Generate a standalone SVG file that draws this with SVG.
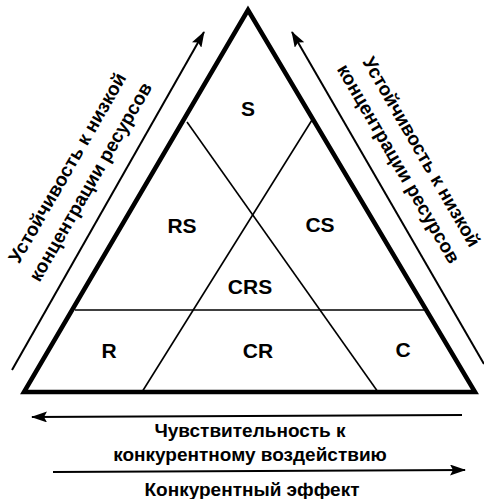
<svg xmlns="http://www.w3.org/2000/svg" width="484" height="499" viewBox="0 0 484 499">
<defs>
<style>
.lbl{font-family:"Liberation Sans",Arial,sans-serif;font-weight:bold;font-size:21px;fill:#000;text-anchor:middle}
.ax{font-family:"Liberation Sans",Arial,sans-serif;font-weight:bold;font-size:19px;fill:#000;text-anchor:middle}
.thin{stroke:#000;stroke-width:1.6;fill:none}
.arr{stroke:#000;stroke-width:2;fill:none;marker-end:url(#ah)}
</style>
<marker id="ah" viewBox="0 0 16 11" refX="15" refY="5.5" markerWidth="16" markerHeight="11" markerUnits="userSpaceOnUse" orient="auto">
<path d="M0,0 L16,5.5 L0,11 L3,5.5 Z" fill="#000"/>
</marker>
</defs>
<rect width="484" height="499" fill="#fff"/>
<g id="triangle">
<polygon points="248,10 24,392 475,392" fill="none" stroke="#000" stroke-width="4.5" stroke-linejoin="miter"/>
</g>
<g id="connectors">
<line class="thin" x1="187" y1="122" x2="378" y2="392"/>
<line class="thin" x1="312" y1="120" x2="142" y2="392"/>
<line class="thin" x1="75" y1="310" x2="424" y2="310"/>
<line class="arr" x1="12" y1="370" x2="204" y2="32"/>
<line class="arr" x1="484" y1="364" x2="292" y2="32"/>
<line class="arr" x1="462" y1="415" x2="32" y2="417"/>
<line class="arr" x1="53" y1="472" x2="465" y2="470"/>
</g>
<g id="node-S"><text class="lbl" x="248" y="116">S</text></g>
<g id="node-RS"><text class="lbl" x="182" y="233">RS</text></g>
<g id="node-CS"><text class="lbl" x="320" y="232">CS</text></g>
<g id="node-CRS"><text class="lbl" x="250" y="294">CRS</text></g>
<g id="node-R"><text class="lbl" x="109" y="358">R</text></g>
<g id="node-CR"><text class="lbl" x="258" y="358">CR</text></g>
<g id="node-C"><text class="lbl" x="403" y="357">C</text></g>
<g id="label-left">
<text class="ax" transform="translate(73,171) rotate(-60)"><tspan x="0" y="0">Устойчивость к низкой</tspan></text>
<text class="ax" transform="translate(96,185) rotate(-60)"><tspan x="0" y="0">концентрации ресурсов</tspan></text>
</g>
<g id="label-right">
<text class="ax" transform="translate(416,155) rotate(60)"><tspan x="0" y="0">Устойчивость к низкой</tspan></text>
<text class="ax" transform="translate(393,167) rotate(60)"><tspan x="0" y="0">концентрации ресурсов</tspan></text>
</g>
<g id="label-bottom">
<text class="ax" x="250" y="437">Чувствительность к</text>
<text class="ax" x="250" y="461">конкурентному воздействию</text>
<text class="ax" x="252" y="496">Конкурентный эффект</text>
</g>
</svg>
